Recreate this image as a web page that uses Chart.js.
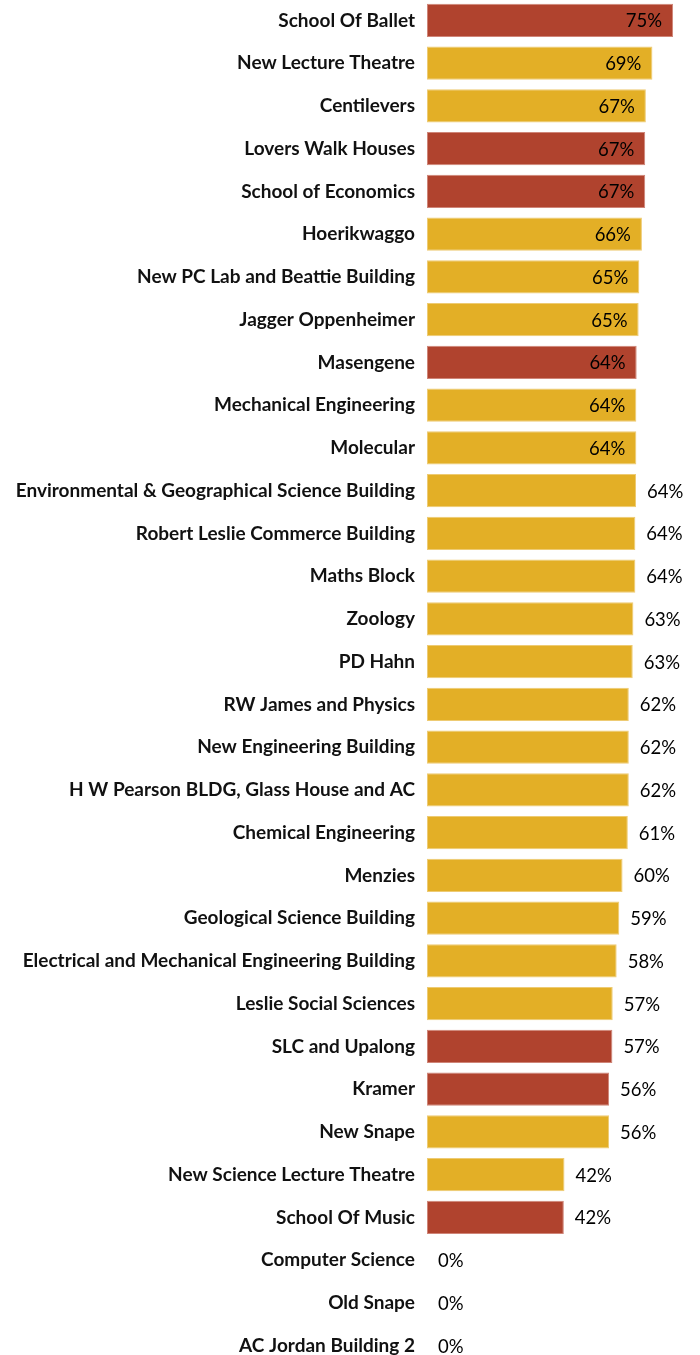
<!DOCTYPE html>
<html>
<head>
<meta charset="utf-8">
<script src="https://cdn.jsdelivr.net/npm/chart.js@4.4.0/dist/chart.umd.min.js"></script>
<style>
  html, body { margin: 0; padding: 0; background: #fff; overflow: hidden; }
  #wrap { position: absolute; left: 0; top: -1px; width: 700px; height: 1368px; }
</style>
</head>
<body>
<div id="wrap"><canvas id="barChart"></canvas></div>
<script>
// buildings, sorted by share
const buildings = [
  'School Of Ballet', 'New Lecture Theatre', 'Centilevers', 'Lovers Walk Houses',
  'School of Economics', 'Hoerikwaggo', 'New PC Lab and Beattie Building',
  'Jagger Oppenheimer', 'Masengene', 'Mechanical Engineering', 'Molecular',
  'Environmental & Geographical Science Building', 'Robert Leslie Commerce Building',
  'Maths Block', 'Zoology', 'PD Hahn', 'RW James and Physics', 'New Engineering Building',
  'H W Pearson BLDG, Glass House and AC', 'Chemical Engineering', 'Menzies',
  'Geological Science Building', 'Electrical and Mechanical Engineering Building',
  'Leslie Social Sciences', 'SLC and Upalong', 'Kramer', 'New Snape',
  'New Science Lecture Theatre', 'School Of Music', 'Computer Science', 'Old Snape',
  'AC Jordan Building 2'
];
const percent = [
  75.0, 68.7, 66.7, 66.5, 66.5, 65.5, 64.7, 64.5, 63.9, 63.8, 63.8,
  63.7, 63.5, 63.5, 62.9, 62.7, 61.5, 61.5, 61.5, 61.2, 59.6,
  58.6, 57.8, 56.6, 56.5, 55.5, 55.5, 41.9, 41.7, 0, 0, 0
];
// 1 = highlighted (red) building
const highlight = [
  1, 0, 0, 1, 1, 0, 0, 0, 1, 0, 0,
  0, 0, 0, 0, 0, 0, 0, 0, 0, 0,
  0, 0, 0, 1, 1, 0, 0, 1, 0, 0, 0
];

const RED = '#b0432e', GOLD = '#e3af26';
const INSIDE_MIN = 63.75; // labels go inside the bar from here up

const valueLabels = {
  id: 'valueLabels',
  afterDatasetsDraw(chart) {
    const ctx = chart.ctx;
    const meta = chart.getDatasetMeta(0);
    ctx.save();
    ctx.font = '18.5px Lato';
    ctx.fillStyle = '#000';
    ctx.textBaseline = 'middle';
    meta.data.forEach((bar, i) => {
      const txt = Math.round(percent[i]) + '%';
      if (percent[i] >= INSIDE_MIN) {
        ctx.textAlign = 'right';
        ctx.fillText(txt, bar.x - 11, bar.y + 1);
      } else {
        ctx.textAlign = 'left';
        ctx.fillText(txt, bar.x + 11, bar.y + 1);
      }
    });
    ctx.restore();
  }
};

let ctx = document.getElementById('barChart').getContext('2d');
new Chart(ctx, {
  type: 'bar',
  data: {
    labels: buildings,
    datasets: [{
      data: percent,
      backgroundColor: highlight.map(h => h ? RED : GOLD),
      borderColor: highlight.map(h => h ? '#cf8578' : '#eecb73'),
      borderWidth: 1,
      borderSkipped: false,
      categoryPercentage: 1,
      barPercentage: 0.775
    }]
  },
  options: {
    indexAxis: 'y',
    responsive: true,
    maintainAspectRatio: false,
    animation: false,
    layout: { padding: 0 },
    plugins: { legend: { display: false }, tooltip: { enabled: false } },
    scales: {
      x: { display: false, min: 0, max: 83.2 },
      y: {
        grid: { display: false, drawTicks: false },
        border: { display: false },
        ticks: {
          padding: 12,
          color: '#111',
          font: { family: 'Lato', size: 19, weight: 'bold' }
        },
        afterFit(axis) {
          axis.width = 427;
          axis.paddingTop = 0;
          axis.paddingBottom = 0;
        }
      }
    }
  },
  plugins: [valueLabels]
});
</script>
</body>
</html>
